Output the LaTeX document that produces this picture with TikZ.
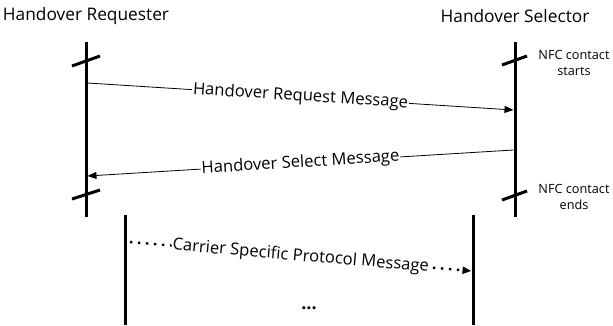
\documentclass[tikz,border=0pt]{standalone}
\usepackage{fontspec}
\setmainfont{Open Sans}
\usetikzlibrary{arrows.meta}
\begin{document}
\begin{tikzpicture}[x=1pt,y=-1pt,
  life/.style={line width=3pt},
  crossmark/.style={line width=3pt},
  msg/.style={line width=0.8pt,-{Triangle[length=9pt,width=7pt]}},
  dotmsg/.style={line width=2.4pt,dash pattern=on 2.4pt off 5.6pt,-{Triangle[length=9pt,width=7pt]}},
  msglabel/.style={sloped,fill=white,inner sep=1pt,font=\fontsize{16.6}{19}\selectfont},
  title/.style={font=\fontsize{17.3}{20}\selectfont},
  note/.style={font=\fontsize{12.7}{15.5}\selectfont,align=center}]
\useasboundingbox (0,0) rectangle (613,325);

% participants
\node[title] (req) at (86,16) {Handover Requester};
\node[title] (sel) at (515,16) {Handover Selector};

% NFC lifelines
\coordinate (rqT) at (86,42);  \coordinate (rqB) at (86,217);
\coordinate (slT) at (515,42); \coordinate (slB) at (515,217);
\draw[life] (rqT) -- (rqB);
\draw[life] (slT) -- (slB);

% contact start / end marks
\coordinate (a1) at (72,66);  \coordinate (a2) at (100,56);
\coordinate (b1) at (72,199); \coordinate (b2) at (100,190);
\coordinate (c1) at (502,65); \coordinate (c2) at (527,56);
\coordinate (d1) at (502,200);\coordinate (d2) at (527,191);
\draw[crossmark] (a1) -- (a2);
\draw[crossmark] (b1) -- (b2);
\draw[crossmark] (c1) -- (c2);
\draw[crossmark] (d1) -- (d2);

\node[note] (nstart) at (574,63) {NFC contact\\starts};
\node[note] (nend) at (574,197) {NFC contact\\ends};

% handover messages
\coordinate (m1s) at (87.5,83);   \coordinate (m1e) at (513.5,110);
\coordinate (m2s) at (513.5,150); \coordinate (m2e) at (87.5,176);
\draw[msg] (m1s) -- node[msglabel] (lbl1) {Handover Request Message} (m1e);
\draw[msg] (m2s) -- node[msglabel] (lbl2) {Handover Select Message} (m2e);

% carrier lifelines
\coordinate (cT) at (125,215); \coordinate (cB) at (125,325);
\coordinate (dT) at (473,215); \coordinate (dB) at (473,325);
\draw[life] (cT) -- (cB);
\draw[life] (dT) -- (dB);

\coordinate (m3s) at (130,242); \coordinate (m3e) at (471.5,271);
\draw[dotmsg] (m3s) -- node[msglabel] (lbl3) {Carrier Specific Protocol Message} (m3e);

\node[font=\fontsize{18}{20}\selectfont\bfseries] (more) at (309,308) {...};
\end{tikzpicture}
\end{document}
